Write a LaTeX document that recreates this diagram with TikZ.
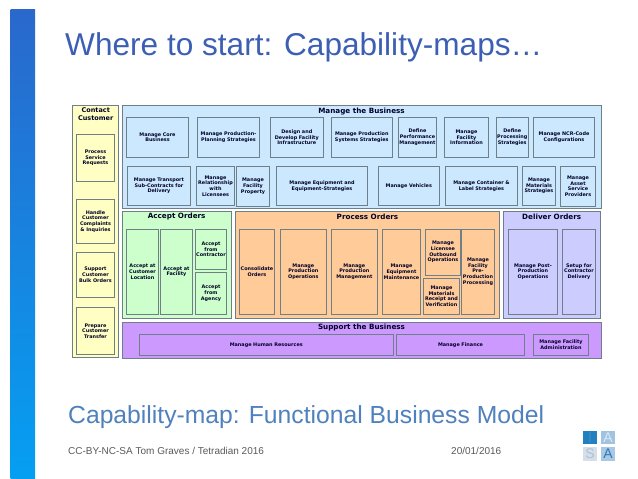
\documentclass[tikz,border=0pt]{standalone}
\usepackage{fontspec}
\setmainfont{Liberation Sans}
\newfontfamily\boxfont{DejaVu Sans}[Scale=1]
\definecolor{barTop}{HTML}{2A68CC}
\definecolor{barBottom}{HTML}{059FF2}
\definecolor{titleblue}{HTML}{3C5FB4}
\definecolor{subblue}{HTML}{4F81BD}
\definecolor{edgegrey}{HTML}{6F7F88}
\definecolor{custfill}{HTML}{FFFFC4}
\definecolor{bizfill}{HTML}{CCE8FF}
\definecolor{acceptfill}{HTML}{CCFFCC}
\definecolor{processfill}{HTML}{FFCC99}
\definecolor{deliverfill}{HTML}{CCCCFF}
\definecolor{supportfill}{HTML}{CC99FF}
\definecolor{logoDark}{HTML}{2080C0}
\definecolor{logoDarkText}{HTML}{3A8FCA}
\definecolor{logoLight}{HTML}{A0C4E0}
\definecolor{logoLightText}{HTML}{D8E8F4}
\definecolor{logoPale}{HTML}{D4DFEA}
\definecolor{logoPaleText}{HTML}{B0C0D0}
\definecolor{logoMid}{HTML}{A8C8E4}
\definecolor{logoMidText}{HTML}{2F78B8}
\tikzset{
  capnode/.style = {draw=edgegrey, line width=0.7pt, align=center, inner sep=0pt,
    font=\boxfont\bfseries\fontsize{4.9}{5.7}\selectfont, text=black!85!blue},
  cust/.style = {capnode, fill=custfill},
  biz/.style = {capnode, fill=bizfill},
  accept/.style = {capnode, fill=acceptfill},
  process/.style = {capnode, fill=processfill},
  deliver/.style = {capnode, fill=deliverfill},
  support/.style = {capnode, fill=supportfill},
  heading/.style = {font=\boxfont\bfseries\fontsize{7.2}{8}\selectfont, text=black!85!blue, align=center, inner sep=0pt},
  logocell/.style = {minimum width=14.6pt, minimum height=13.4pt, inner sep=0pt, font=\fontsize{14}{14}\selectfont}
}
% one box: style, name, x0, y0, x1, y1, text
\newcommand{\capbox}[7]{\path[#1] (#3,#4) rectangle (#5,#6) node[midway, text width=#5pt-#3pt-1pt, draw=none, fill=none] (#2) {#7};}
\begin{document}
\begin{tikzpicture}[x=1pt,y=-1pt]
\useasboundingbox (0,0) rectangle (638,479);
% side bar and title
\shade[top color=barTop, bottom color=barBottom] (10.7,9.5) rectangle (35,478);
\node (title) [anchor=base west, inner sep=0pt, text=titleblue, font=\fontsize{31.6}{32}\selectfont] at (65,55) {Where to start: Capability-maps\ldots};

% outer areas
\capbox{cust}{contact}{72.7}{105.3}{118.7}{357.7}{}
\capbox{biz}{business}{122.3}{105.3}{601.7}{208.5}{}
\capbox{accept}{acceptorders}{122.3}{211.3}{231.7}{318.3}{}
\capbox{process}{processorders}{235.3}{211.3}{499.7}{318.3}{}
\capbox{deliver}{deliverorders}{503.3}{211.3}{600.7}{318.3}{}
\capbox{support}{supportbusiness}{122.3}{322.3}{601.7}{358.3}{}
\node[heading, font=\boxfont\bfseries\fontsize{6.5}{8}\selectfont] (contacttitle) at (95.7,114) {Contact\\Customer};
\node[heading] (businesstitle) at (361.5,111.2) {Manage the Business};
\node[heading] (accepttitle) at (176.7,216.8) {Accept Orders};
\node[heading] (processtitle) at (367.5,216.8) {Process Orders};
\node[heading] (delivertitle) at (551.7,216.8) {Deliver Orders};
\node[heading] (supporttitle) at (361.5,327.8) {Support the Business};

% contact customer
\capbox{cust}{requests}{76.3}{134.3}{114.7}{181.7}{Process\\Service\\Requests}
\capbox{cust}{complaints}{76.3}{199.3}{114.7}{243.3}{Handle\\Customer\\Complaints\\\& Inquiries}
\capbox{cust}{bulk}{76.3}{252}{114.7}{297.7}{Support\\Customer\\Bulk Orders}
\capbox{cust}{transfer}{76.3}{307.3}{114.7}{354.7}{Prepare\\Customer\\Transfer}

% manage the business, upper row
\capbox{biz}{core}{126.3}{117.3}{188.7}{157.3}{Manage Core\\Business}
\capbox{biz}{planning}{197.3}{117.3}{259.7}{157.3}{Manage Production-\\Planning Strategies}
\capbox{biz}{design}{270.3}{117.3}{323.3}{157.3}{Design and\\Develop Facility\\Infrastructure}
\capbox{biz}{systems}{331.3}{117.3}{392.3}{157.3}{Manage Production\\Systems Strategies}
\capbox{biz}{performance}{398.3}{117.3}{436.7}{157.3}{Define\\Performance\\Management}
\capbox{biz}{information}{444.3}{117.3}{488.7}{157.3}{Manage\\Facility\\Information}
\capbox{biz}{processing}{496.3}{117.3}{528.3}{157.3}{Define\\Processing\\Strategies}
\capbox{biz}{ncr}{533.3}{117.3}{594.7}{157.3}{Manage NCR-Code\\Configurations}
% manage the business, lower row
\capbox{biz}{transport}{127.3}{166}{190.7}{205.7}{Manage Transport\\Sub-Contracts for\\Delivery}
\capbox{biz}{relationship}{196.3}{166}{234.7}{205.7}{Manage\\Relationship\\with\\Licensees}
\capbox{biz}{property}{236.3}{166}{269.7}{206.7}{Manage\\Facility\\Property}
\capbox{biz}{equipment}{276.3}{166}{367.7}{205.7}{Manage Equipment and\\Equipment-Strategies}
\capbox{biz}{vehicles}{378.3}{166}{439.3}{205.7}{Manage Vehicles}
\capbox{biz}{container}{445.3}{166}{517.7}{205.7}{Manage Container \&\\Label Strategies}
\capbox{biz}{materials}{522.3}{166}{555.7}{205.7}{Manage\\Materials\\Strategies}
\capbox{biz}{asset}{560.3}{166}{595.7}{206.7}{Manage\\Asset\\Service\\Providers}

% accept orders
\capbox{accept}{location}{126.3}{229}{158.7}{314.3}{Accept at\\Customer\\Location}
\capbox{accept}{facility}{160.3}{229}{192.7}{314.3}{Accept at\\Facility}
\capbox{accept}{contractor}{195.3}{229}{226.7}{269.7}{Accept\\from\\Contractor}
\capbox{accept}{agency}{195.3}{272.3}{226.7}{314.3}{Accept\\from\\Agency}

% process orders
\capbox{process}{consolidate}{239.3}{229}{274.7}{314.3}{Consolidate\\Orders}
\capbox{process}{operations}{280}{229}{326.7}{314.3}{Manage\\Production\\Operations}
\capbox{process}{management}{331}{229}{377.7}{314.3}{Manage\\Production\\Management}
\capbox{process}{maintenance}{382.3}{229}{420.7}{314.3}{Manage\\Equipment\\Maintenance}
\capbox{process}{outbound}{425.3}{229}{460.7}{275.3}{Manage\\Licensee\\Outbound\\Operations}
\capbox{process}{receipt}{423.3}{278.3}{459.7}{314.3}{Manage\\Materials\\Receipt and\\Verification}
\capbox{process}{preproduction}{461.3}{229}{494.7}{314.3}{Manage\\Facility\\Pre-\\Production\\Processing}

% deliver orders
\capbox{deliver}{postproduction}{508.3}{229}{557.7}{314.3}{Manage Post-\\Production\\Operations}
\capbox{deliver}{setup}{562.3}{229}{595.7}{314.3}{Setup for\\Contractor\\Delivery}

% support the business
\capbox{support}{resources}{139.3}{334.3}{393.3}{355.7}{Manage Human Resources}
\capbox{support}{finance}{396.3}{334.3}{524.7}{355.7}{Manage Finance}
\capbox{support}{administration}{533.3}{334.3}{588.7}{355.7}{Manage Facility\\Administration}

% footer
\node (subtitle) [anchor=base west, inner sep=0pt, text=subblue, font=\fontsize{24.7}{25}\selectfont] at (68,423) {Capability-map: Functional Business Model};
\node (licence) [anchor=base west, inner sep=0pt, text=black!65, font=\fontsize{10}{10}\selectfont] at (68,454.5) {CC-BY-NC-SA Tom Graves / Tetradian 2016};
\node (date) [anchor=base west, inner sep=0pt, text=black!65, font=\fontsize{10}{10}\selectfont] at (451,454.5) {20/01/2016};

% logo
\node[logocell, fill=logoDark, text=logoDarkText] (logoI) at (590,437.4) {I};
\node[logocell, fill=logoLight, text=logoLightText] (logoAtop) at (608,437.4) {A};
\node[logocell, fill=logoPale, text=logoPaleText] (logoS) at (590,454) {S};
\node[logocell, fill=logoMid, text=logoMidText] (logoAbot) at (608,454) {A};
\end{tikzpicture}
\end{document}
